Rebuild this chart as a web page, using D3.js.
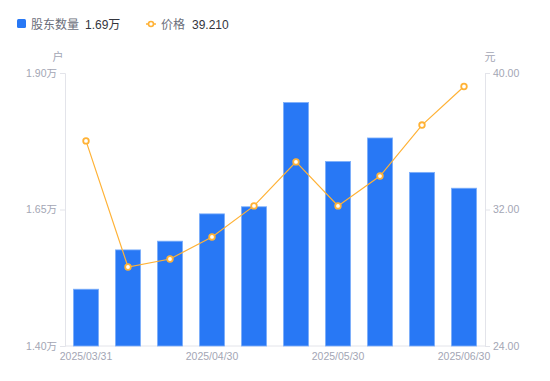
<!DOCTYPE html>
<html>
<head>
<meta charset="utf-8">
<script src="https://cdn.jsdelivr.net/npm/d3@7/dist/d3.min.js"></script>
<style>
  body { margin: 0; background: #fff; }
  text { font-family: "Liberation Sans", "Noto Sans CJK SC", sans-serif; }
</style>
</head>
<body>
<div id="canvas"></div>
<script>
const dates = ["2025/03/31", "2025/04/10", "2025/04/20", "2025/04/30", "2025/05/09",
               "2025/05/20", "2025/05/30", "2025/06/10", "2025/06/20", "2025/06/30"];
const holders = [1.504, 1.576, 1.592, 1.642, 1.655, 1.846, 1.738, 1.781, 1.718, 1.689]; // 万户
const prices = [36.02, 28.63, 29.10, 30.39, 32.21, 34.79, 32.21, 33.96, 36.95, 39.21];
const leftTicks = [1.40, 1.65, 1.90];
const rightTicks = [24, 32, 40];
const xTickDates = ["2025/03/31", "2025/04/30", "2025/05/30", "2025/06/30"];

const w = 550, h = 381;
const margin = { top: 73, bottom: 35, left: 65, right: 65 };
const width = w - margin.left - margin.right;
const height = h - margin.top - margin.bottom;

const svg = d3.select("#canvas").append("svg")
  .attr("width", w).attr("height", h);

const x = d3.scaleBand().domain(dates).range([margin.left, margin.left + width]).paddingInner(0.4).paddingOuter(0.2);
const yL = d3.scaleLinear().domain([1.40, 1.90]).range([margin.top + height, margin.top]);
const yR = d3.scaleLinear().domain([24, 40]).range([margin.top + height, margin.top]);

const axisColor = "#e3e4ea";
const labelColor = "#a3a6b4";

// left axis
const gL = svg.append("g").attr("transform", `translate(${margin.left},0)`)
  .call(d3.axisLeft(yL).tickValues(leftTicks).tickSize(5).tickPadding(3).tickFormat(d => d.toFixed(2) + "万"));
// right axis
const gR = svg.append("g").attr("transform", `translate(${margin.left + width},0)`)
  .call(d3.axisRight(yR).tickValues(rightTicks).tickSize(5).tickPadding(3).tickFormat(d => d.toFixed(2)));
// bottom axis
const gB = svg.append("g").attr("transform", `translate(0,${margin.top + height})`)
  .call(d3.axisBottom(x).tickValues(xTickDates).tickSize(0).tickPadding(7));

[gL, gR, gB].forEach(g => {
  g.selectAll(".domain").attr("stroke", axisColor);
  g.selectAll(".tick line").attr("stroke", axisColor);
  g.selectAll("text").attr("fill", labelColor).style("font-size", "10.5px")
    .style("font-family", "'Liberation Sans', 'Noto Sans CJK SC', sans-serif");
});
gB.select(".domain").attr("d", `M${margin.left},0H${margin.left + width}`);

// units
svg.append("text").attr("x", 58).attr("y", 61).attr("text-anchor", "middle")
  .attr("fill", labelColor).style("font-size", "11px").text("户");
svg.append("text").attr("x", 490).attr("y", 61).attr("text-anchor", "middle")
  .attr("fill", labelColor).style("font-size", "11px").text("元");

// bars
svg.append("g").selectAll("rect").data(holders).enter().append("rect")
  .attr("x", (d, i) => x(dates[i]))
  .attr("y", d => yL(d))
  .attr("width", x.bandwidth())
  .attr("height", d => yL(1.40) - yL(d))
  .attr("fill", "#2878f5")
  .attr("stroke", "#7fb0fa")
  .attr("stroke-width", 0.8);

// price line
const line = d3.line()
  .x((d, i) => x(dates[i]) + x.bandwidth() / 2)
  .y(d => yR(d));
svg.append("path").datum(prices)
  .attr("d", line)
  .attr("fill", "none")
  .attr("stroke", "#ffb236")
  .attr("stroke-width", 1.2);
svg.append("g").selectAll("circle").data(prices).enter().append("circle")
  .attr("cx", (d, i) => x(dates[i]) + x.bandwidth() / 2)
  .attr("cy", d => yR(d))
  .attr("r", 2.8)
  .attr("fill", "#fff")
  .attr("stroke", "#ffb236")
  .attr("stroke-width", 1.8);

// legend
const lg = svg.append("g");
lg.append("rect").attr("x", 17).attr("y", 19).attr("width", 9).attr("height", 9)
  .attr("rx", 1.5).attr("fill", "#2878f5");
lg.append("text").attr("x", 31).attr("y", 29).attr("fill", "#6b6e7a").style("font-size", "12px").text("股东数量");
lg.append("text").attr("x", 85).attr("y", 29).attr("fill", "#33353d").style("font-size", "12px")
  .text(holders[holders.length - 1].toFixed(2) + "万");
lg.append("line").attr("x1", 146).attr("x2", 156).attr("y1", 24).attr("y2", 24)
  .attr("stroke", "#ffb236").attr("stroke-width", 1.5);
lg.append("circle").attr("cx", 151).attr("cy", 24).attr("r", 2.5)
  .attr("fill", "#fff").attr("stroke", "#ffb236").attr("stroke-width", 1.6);
lg.append("text").attr("x", 161).attr("y", 29).attr("fill", "#6b6e7a").style("font-size", "12px").text("价格");
lg.append("text").attr("x", 192).attr("y", 29).attr("fill", "#33353d").style("font-size", "12px")
  .text(prices[prices.length - 1].toFixed(3));
</script>
</body>
</html>
